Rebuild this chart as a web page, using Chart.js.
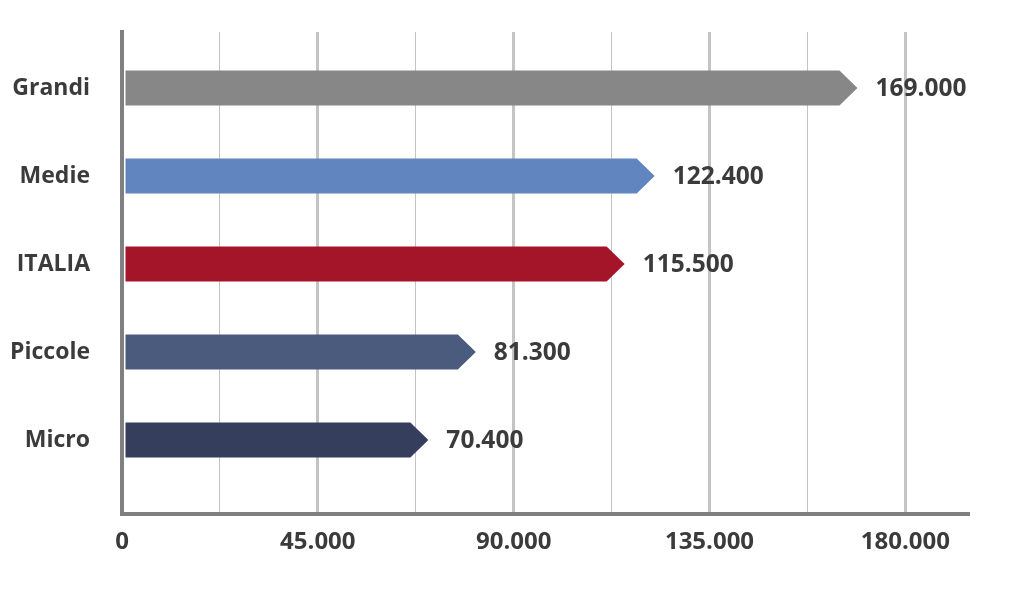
<!DOCTYPE html>
<html>
<head>
<meta charset="utf-8">
<script src="https://cdn.jsdelivr.net/npm/chart.js@4"></script>
<style>
  html, body { margin: 0; padding: 0; background: #ffffff; }
  #wrap { width: 1024px; height: 590px; }
</style>
</head>
<body>
<div id="wrap"><canvas id="grafico"></canvas></div>
<script>
const categories = ['Grandi', 'Medie', 'ITALIA', 'Piccole', 'Micro'];
const values = [169000, 122400, 115500, 81300, 70400];
const barColors = ['#878787', '#6185bf', '#a5152a', '#4a5b7d', '#353e5d'];
const tickValues = [0, 22500, 45000, 67500, 90000, 112500, 135000, 157500, 180000];
const tickLabels = ['0', '', '45.000', '', '90.000', '', '135.000', '', '180.000'];

const textColor = '#3b3b3b';
const fontFamily = '"Open Sans", sans-serif';

function formatIt(n) {
    return String(n).replace(/\B(?=(\d{3})+(?!\d))/g, '.');
}

// frecce al posto delle barre + etichette valore
const arrowBars = {
    id: 'arrowBars',
    beforeDatasetDraw() {
        return false;
    },
    afterDatasetsDraw(chart) {
        const ctx = chart.ctx;
        const meta = chart.getDatasetMeta(0);
        const tip = 18;
        ctx.save();
        meta.data.forEach((bar, i) => {
            const { x, y, base, height } = bar.getProps(['x', 'y', 'base', 'height'], true);
            const h = height / 2;
            const left = base + 2;
            ctx.fillStyle = bar.options.backgroundColor;
            ctx.beginPath();
            ctx.moveTo(left, y - h);
            ctx.lineTo(x - tip, y - h);
            ctx.lineTo(x, y);
            ctx.lineTo(x - tip, y + h);
            ctx.lineTo(left, y + h);
            ctx.closePath();
            ctx.fill();

            ctx.fillStyle = textColor;
            ctx.font = 'bold 24.5px ' + fontFamily;
            ctx.textAlign = 'left';
            ctx.textBaseline = 'middle';
            ctx.fillText(formatIt(values[i]), x + 18, y + 1);
        });
        ctx.restore();
    }
};

const ctx = document.getElementById('grafico').getContext('2d');
new Chart(ctx, {
    type: 'bar',
    data: {
        datasets: [{
            data: values.map((v, i) => ({ x: v, y: i })),
            backgroundColor: barColors,
            barThickness: 35
        }]
    },
    options: {
        indexAxis: 'y',
        responsive: true,
        maintainAspectRatio: false,
        animation: false,
        layout: {
            padding: { top: 32, right: 56, bottom: 0, left: 0 }
        },
        plugins: {
            legend: { display: false },
            tooltip: { enabled: false }
        },
        scales: {
            x: {
                type: 'linear',
                min: 0,
                max: 194400,
                afterBuildTicks: axis => {
                    axis.ticks = tickValues.map(v => ({ value: v }));
                },
                afterFit: scale => {
                    scale.height = 76;
                },
                ticks: {
                    color: textColor,
                    padding: 14,
                    maxRotation: 0,
                    autoSkip: false,
                    font: { family: fontFamily, size: 24, weight: 'bold' },
                    callback: (value, index) => tickLabels[index]
                },
                grid: {
                    drawTicks: false,
                    color: '#c4c4c4',
                    lineWidth: c => (c.tick && c.tick.value % 45000 === 0 ? 3 : 1)
                },
                border: {
                    display: true,
                    color: '#808080',
                    width: 4
                }
            },
            y: {
                type: 'linear',
                reverse: true,
                offset: false,
                min: -0.636,
                max: 4.841,
                afterBuildTicks: axis => {
                    axis.ticks = categories.map((c, i) => ({ value: i }));
                },
                afterFit: scale => {
                    scale.width = 122;
                    scale.paddingTop = 0;
                    scale.paddingBottom = 0;
                },
                ticks: {
                    color: textColor,
                    padding: 32,
                    autoSkip: false,
                    font: { family: fontFamily, size: 23, weight: 'bold' },
                    callback: value => categories[value]
                },
                grid: {
                    display: false,
                    drawTicks: false
                },
                border: {
                    display: true,
                    color: '#808080',
                    width: 4
                }
            }
        }
    },
    plugins: [arrowBars]
});
</script>
</body>
</html>
